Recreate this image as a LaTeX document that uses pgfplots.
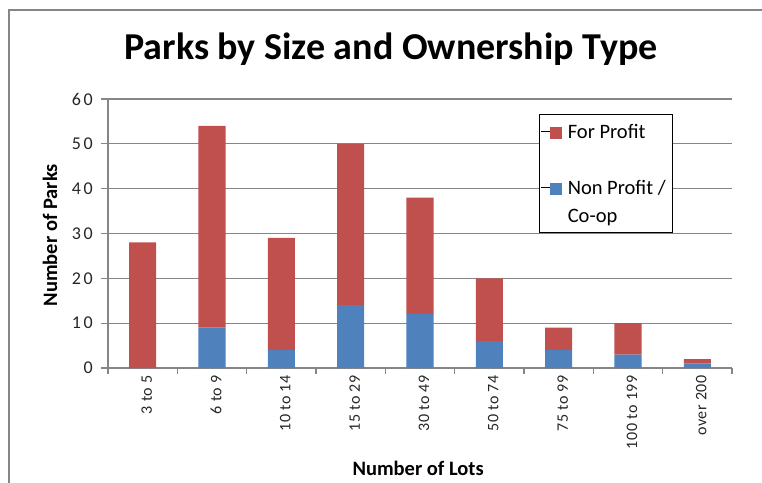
\documentclass[border=0pt]{standalone}
\usepackage{pgfplots}
\pgfplotsset{compat=1.18}
\usepackage{fontspec}
\setmainfont{Carlito}
\newfontfamily\tickfont[LetterSpace=4]{Carlito}
\newfontfamily\ytickfont[LetterSpace=15]{Carlito}
\definecolor{profit}{HTML}{C0504D}
\definecolor{nonprofit}{HTML}{4F81BD}
\definecolor{gridgray}{HTML}{868686}

\begin{document}
\begin{tikzpicture}
\useasboundingbox (0,0) rectangle (762pt,482pt);
% chart area frame (only top and left edges are in view)
\draw[gridgray, line width=1.5pt] (9pt,-5pt) -- (9pt,472pt) -- (775pt,472pt);
\begin{axis}[
    at={(108pt,114pt)}, anchor=south west,
    scale only axis, width=624pt, height=269pt,
    ybar stacked, bar width=0.39,
    xmin=-0.5, xmax=8.5,
    ymin=0, ymax=60,
    ytick={0,10,...,60},
    xtick={0,...,8},
    xticklabels={3 to 5, 6 to 9, 10 to 14, 15 to 29, 30 to 49, 50 to 74, 75 to 99, 100 to 199, over 200},
    minor xtick={-0.5,0.5,...,8.5},
    axis x line*=bottom, axis y line*=left,
    axis line style={gridgray, line width=1.2pt},
    tick align=outside,
    major tick length=7pt, minor tick length=6pt,
    major x tick style={draw=none},
    minor x tick style={gridgray, line width=1.2pt},
    ytick style={gridgray, line width=1.2pt},
    ymajorgrids, major grid style={gridgray, line width=1.2pt},
    /pgf/number format/assume math mode=true,
    every tick label/.append style={text=black!85},
    xticklabel style={font=\tickfont\fontsize{16}{19}\selectfont, rotate=90, anchor=east, inner sep=0pt, yshift=-4pt},
    yticklabel style={font=\ytickfont\fontsize{18}{21}\selectfont, anchor=east, inner sep=0pt, xshift=-8pt},
    title={Parks by Size and Ownership Type},
    title style={at={(axis description cs:0.4535,1.123)}, anchor=base, yshift=0pt, font=\bfseries\fontsize{38}{44}\selectfont},
    xlabel={Number of Lots},
    xlabel style={at={(axis description cs:0.497,-0.40)}, anchor=base, font=\bfseries\fontsize{20.5}{24}\selectfont},
    ylabel={Number of Parks},
    ylabel style={at={(axis description cs:-0.0817,0.494)}, anchor=base, font=\bfseries\fontsize{20.5}{24}\selectfont},
    legend cell align=left,
    legend style={at={(axis description cs:0.6907,0.944)}, anchor=north west,
        draw=black, line width=1.2pt, inner xsep=1pt, inner ysep=3pt, row sep=0pt,
        font=\fontsize{20.5}{24}\selectfont,
        nodes={text height=17pt, text depth=3pt, inner ysep=4pt, inner xsep=6pt}},
]
\addlegendimage{legend image code/.code={\path (0pt,0pt) -- (9pt,0pt); \fill[profit] (9pt,-6.5pt) rectangle (20pt,4.5pt);}}
\addlegendentry{For Profit}
\addlegendimage{empty legend}
\addlegendentry{\mbox{}}
\addlegendimage{legend image code/.code={\path (0pt,0pt) -- (9pt,0pt); \fill[nonprofit] (9pt,-6.5pt) rectangle (20pt,4.5pt);}}
\addlegendentry{Non Profit /}
\addlegendimage{empty legend}
\addlegendentry{Co-op}

\addplot[fill=nonprofit, draw=none] coordinates {(0,0) (1,9) (2,4) (3,14) (4,12) (5,6) (6,4) (7,3) (8,1)};
\addplot[fill=profit, draw=none] coordinates {(0,28) (1,45) (2,25) (3,36) (4,26) (5,14) (6,5) (7,7) (8,1)};
\end{axis}
\end{tikzpicture}
\end{document}
